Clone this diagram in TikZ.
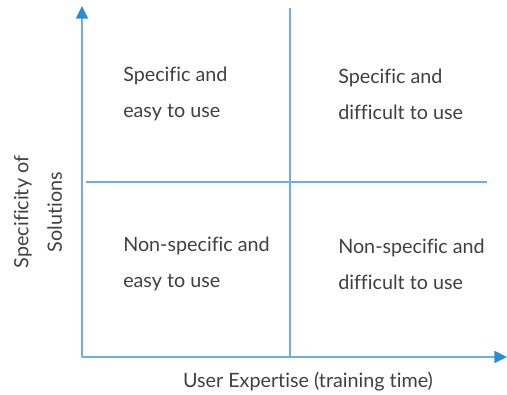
\documentclass[tikz,border=0pt]{standalone}
\usepackage{fontspec}
\setmainfont[Ligatures=NoCommon]{Lato}
\usepackage{tikz}
\usetikzlibrary{arrows.meta}
\definecolor{axisblue}{RGB}{110,175,225}
\definecolor{tipblue}{RGB}{45,140,215}
\definecolor{textgray}{RGB}{64,64,64}

\begin{document}
\begin{tikzpicture}[x=0.75pt,y=0.75pt,yscale=-1,xscale=1,
    axisline/.style={draw=axisblue,line width=1.1pt},
    axisarrow/.style={axisline,-{Triangle[length=9.5pt,width=9pt,color=tipblue]}},
    quadtext/.style={anchor=west,inner sep=0pt,align=left,text=textgray,font=\fontsize{14.8}{27}\selectfont},
    axislabel/.style={inner sep=0pt,align=center,text=textgray,font=\fontsize{14.8}{25}\selectfont}]
        \useasboundingbox (0,0) rectangle (507,395);
        
        \coordinate (O) at (82,357);
        \coordinate (ytip) at (82,6);
        \coordinate (xtip) at (507,357);
        \coordinate (vtop) at (290,8);
        \coordinate (vbot) at (290,357);
        \coordinate (hleft) at (86,182);
        \coordinate (hright) at (487,182);
        
        \draw [axisarrow] (O) -- (ytip) ;
        \draw [axisarrow] (O) -- (xtip) ;
        \draw [axisline]  (vtop) -- (vbot) ;
        \draw [axisline]  (hleft) -- (hright) ;
        
        \node [quadtext] (spec easy) at (123,94) {Specific and\\easy to use};
        \node [quadtext] (spec hard) at (338,94) {Specific and\\difficult to use};
        \node [quadtext] (nonspec easy) at (123,264) {Non-specific and\\easy to use};
        \node [quadtext] (nonspec hard) at (338,264) {Non-specific and\\difficult to use};
        \node [axislabel,rotate=90] (ylab) at (38,212) {Specificity of\\Solutions};
        \node [axislabel] (xlab) at (308,382) {User Expertise (training time)};
    \end{tikzpicture}
\end{document}
